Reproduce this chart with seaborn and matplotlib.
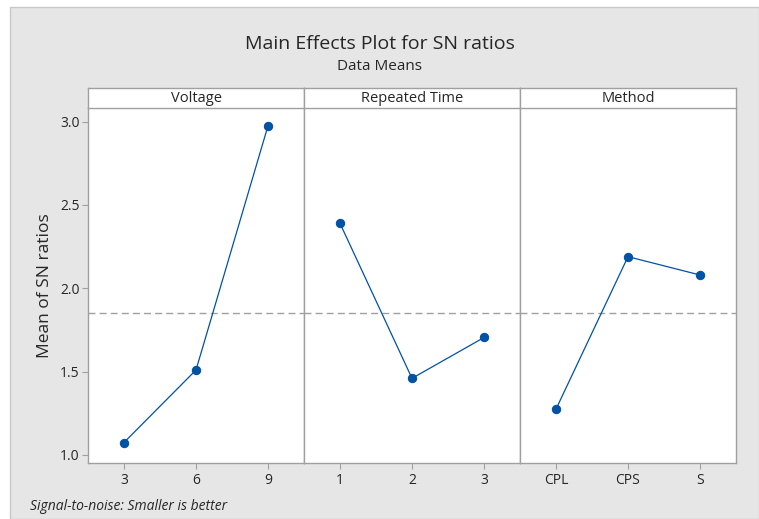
import numpy as np
import pandas as pd
import matplotlib
matplotlib.use('Agg')
import matplotlib.pyplot as plt
import seaborn as sns
from matplotlib.patches import Rectangle

# Datos del gráfico
factores = ['Voltage', 'Repeated Time', 'Method']
niveles_voltage = ['3', '6', '9']
sn_voltage = [1.075, 1.51, 2.975]
niveles_repeated = ['1', '2', '3']
sn_repeated = [2.39, 1.46, 1.705]
niveles_method = ['CPL', 'CPS', 'S']
sn_method = [1.275, 2.19, 2.08]

niveles = [niveles_voltage, niveles_repeated, niveles_method]
valores = [sn_voltage, sn_repeated, sn_method]

df = pd.concat([
    pd.DataFrame({'Factor': f, 'Nivel': n, 'SN': v})
    for f, n, v in zip(factores, niveles, valores)
], ignore_index=True)
media_global = df['SN'].mean()

sns.set_style('white')
plt.rcParams['font.family'] = ['Open Sans', 'DejaVu Sans']

W, H = 759, 519
fig = plt.figure(figsize=(W / 100, H / 100), dpi=100)
fig.patch.set_facecolor('white')

# Fondo gris estilo Minitab
fig.patches.append(Rectangle((10 / W, 0), 1 - 10 / W, 1 - 7 / H, transform=fig.transFigure,
                             facecolor='#e6e6e6', edgecolor='#c8c8c8', lw=1, zorder=-10))

izq, der = 88 / W, 736 / W
abajo, arriba = 1 - 463 / H, 1 - 108 / H
tira_top = 1 - 88 / H
ancho = (der - izq) / 3

gris = '#a0a0a0'
azul = '#0052a5'

for i, factor in enumerate(factores):
    ax = fig.add_axes([izq + i * ancho, abajo, ancho, arriba - abajo])
    sub = df[df['Factor'] == factor]
    ax.axhline(media_global, color=gris, lw=1, ls=(0, (5, 3)), zorder=1)
    sns.lineplot(data=sub, x='Nivel', y='SN', ax=ax, color=azul, lw=0.9,
                 marker='o', markersize=6, markeredgecolor=azul, sort=False, zorder=3)
    ax.set_xlim(-0.5, 2.5)
    ax.set_ylim(0.952, 3.082)
    ax.set_yticks([1.0, 1.5, 2.0, 2.5, 3.0])
    ax.set_xlabel('')
    ax.set_ylabel('')
    ax.set_facecolor('white')
    for s in ax.spines.values():
        s.set_color(gris)
        s.set_linewidth(1)
    ax.spines['top'].set_visible(False)
    ax.tick_params(axis='x', bottom=True, length=4, color=gris, labelsize=10, pad=3)
    if i == 0:
        ax.tick_params(axis='y', left=True, length=4, color=gris, labelsize=10, pad=2)
        ax.set_yticklabels(['1.0', '1.5', '2.0', '2.5', '3.0'])
    else:
        ax.tick_params(axis='y', left=False, labelleft=False)
    # Tira con el nombre del factor
    tira = fig.add_axes([izq + i * ancho, arriba, ancho, tira_top - arriba])
    tira.set_xticks([])
    tira.set_yticks([])
    tira.set_facecolor('white')
    for s in tira.spines.values():
        s.set_color(gris)
        s.set_linewidth(1)
    tira.text(0.5, 0.45, factor, ha='center', va='center', fontsize=10.5, transform=tira.transAxes)

fig.text(0.5, 1 - 44 / H, 'Main Effects Plot for SN ratios', ha='center', va='center', fontsize=14)
fig.text(0.5, 1 - 66 / H, 'Data Means', ha='center', va='center', fontsize=11)
fig.text(45 / W, (abajo + arriba) / 2, 'Mean of SN ratios', rotation=90, ha='center', va='center', fontsize=12.5)
fig.text(30 / W, 1 - 507 / H, 'Signal-to-noise: Smaller is better', ha='left', va='center',
         fontsize=10, style='italic')

fig.savefig('out.png', dpi=100)
